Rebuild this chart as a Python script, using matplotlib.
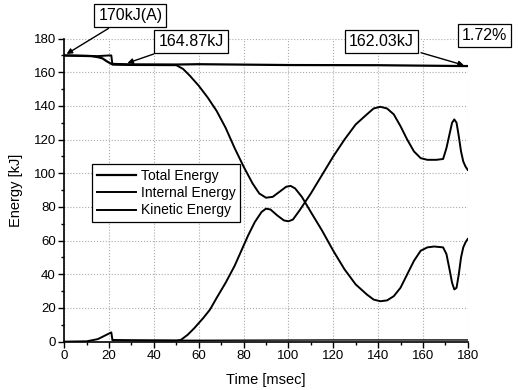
import numpy as np
import matplotlib.pyplot as plt
from matplotlib.ticker import MultipleLocator

plt.rcParams['font.family'] = ['Liberation Sans', 'DejaVu Sans']

# Total energy (t in msec, E in kJ)
total_t = [0, 12, 15, 17, 19, 21, 23, 30, 50, 60, 100, 140, 178, 180]
total_e = [170, 169.6, 169, 168.3, 166.5, 165, 164.9, 164.7, 164.6, 164.8, 164.3, 164.2, 163.7, 163.7]

# Internal energy
internal_t = [0, 10, 15, 21, 21.5, 30, 50, 52, 55, 58, 62, 65, 68, 72, 76, 79, 82, 85, 88, 90,
              92, 95, 98, 100, 102, 105, 110, 115, 120, 125, 130, 135, 138, 141, 144, 147, 150,
              153, 156, 159, 162, 166, 169, 170.5, 172, 173, 174, 175, 176, 177, 178, 179, 180]
internal_e = [0, 0.2, 1.5, 5.5, 1, 0.8, 0.6, 1, 4, 8, 14, 19, 26, 35, 45, 54, 63, 71, 77, 79,
              78.5, 75, 72, 71.5, 72.5, 78, 88, 99, 110, 120, 129, 135, 138.5, 139.5, 138.5, 135, 128,
              120, 113, 109, 108, 108, 108.5, 115, 124, 130, 132, 130, 122, 113, 107, 104, 102]

# Kinetic energy
kinetic_t = [0, 10, 15, 20, 21, 21.5, 30, 50, 53, 56, 60, 64, 68, 72, 76, 80, 84, 87, 90, 93,
             96, 99, 101, 103, 106, 110, 115, 120, 125, 130, 135, 138, 141, 144, 147, 150, 153,
             156, 159, 162, 165, 169, 170.5, 172, 173, 174, 175, 176, 177, 178, 179, 180]
kinetic_e = [170, 169.8, 169.6, 170, 170, 164.5, 164.3, 164.2, 162, 158, 152, 145, 137, 127, 115,
             104, 94, 88, 85.5, 86, 89, 92, 92.5, 91, 86, 77, 66, 54, 43, 34, 28, 25, 24, 24.5,
             27, 32, 40, 48, 54, 56, 56.5, 56, 52, 42, 35, 31, 32, 40, 50, 56, 59, 61]

# small residual energy near zero
other_t = [21.5, 60, 120, 180]
other_e = [0.8, 0.8, 1.0, 1.0]

fig = plt.figure(figsize=(5.18, 3.9), dpi=100)
ax = fig.add_axes([0.124, 0.124, 0.779, 0.777])

ax.plot(total_t, total_e, color='black', lw=1.6, label='Total Energy')
ax.plot(internal_t, internal_e, color='black', lw=1.4, label='Internal Energy')
ax.plot(kinetic_t, kinetic_e, color='black', lw=1.4, label='Kinetic Energy')
ax.plot(other_t, other_e, color='black', lw=1.0)

ax.set_xlim(0, 180)
ax.set_ylim(0, 180)
ax.xaxis.set_major_locator(MultipleLocator(20))
ax.yaxis.set_major_locator(MultipleLocator(20))
ax.xaxis.set_minor_locator(MultipleLocator(10))
ax.yaxis.set_minor_locator(MultipleLocator(10))
ax.tick_params(which='major', direction='out', length=4, width=1, labelsize=9.5, pad=2)
ax.tick_params(which='minor', direction='out', length=2, width=1)
ax.spines['top'].set_visible(False)
ax.spines['right'].set_visible(False)
ax.spines['left'].set_linewidth(1.2)
ax.spines['bottom'].set_linewidth(1.2)
ax.grid(True, which='major', color='#aaaaaa', linestyle=':', linewidth=0.8)

ax.set_xlabel('Time [msec]', fontsize=10.5, labelpad=8)
ax.set_ylabel('Energy [kJ]', fontsize=10.5, labelpad=8)

leg = ax.legend(loc='upper left', bbox_to_anchor=(0.07, 0.585), fontsize=10,
                handlelength=2.8, handletextpad=0.4, borderpad=0.3, labelspacing=0.25,
                fancybox=False, framealpha=1, edgecolor='black', borderaxespad=0)
leg.get_frame().set_linewidth(0.9)

box = dict(boxstyle='square,pad=0.25', fc='white', ec='black', lw=0.9)
arrow = dict(arrowstyle='-|>', color='black', lw=1.0, mutation_scale=8)

ax.annotate('170kJ(A)', xy=(0, 170), xytext=(29.5, 194), fontsize=11.5, ha='center', va='center',
            bbox=box, arrowprops=arrow, annotation_clip=False)
ax.annotate('164.87kJ', xy=(27, 164.9), xytext=(56.5, 178.5), fontsize=11.5, ha='center', va='center',
            bbox=box, arrowprops=arrow, annotation_clip=False)
ax.annotate('162.03kJ', xy=(179.5, 163.7), xytext=(141.5, 178.5), fontsize=11.5, ha='center', va='center',
            bbox=box, arrowprops=arrow, annotation_clip=False)
ax.text(187.5, 182, '1.72%', fontsize=11.5, ha='center', va='center', bbox=box, clip_on=False)

fig.savefig('out.png', dpi=100)
